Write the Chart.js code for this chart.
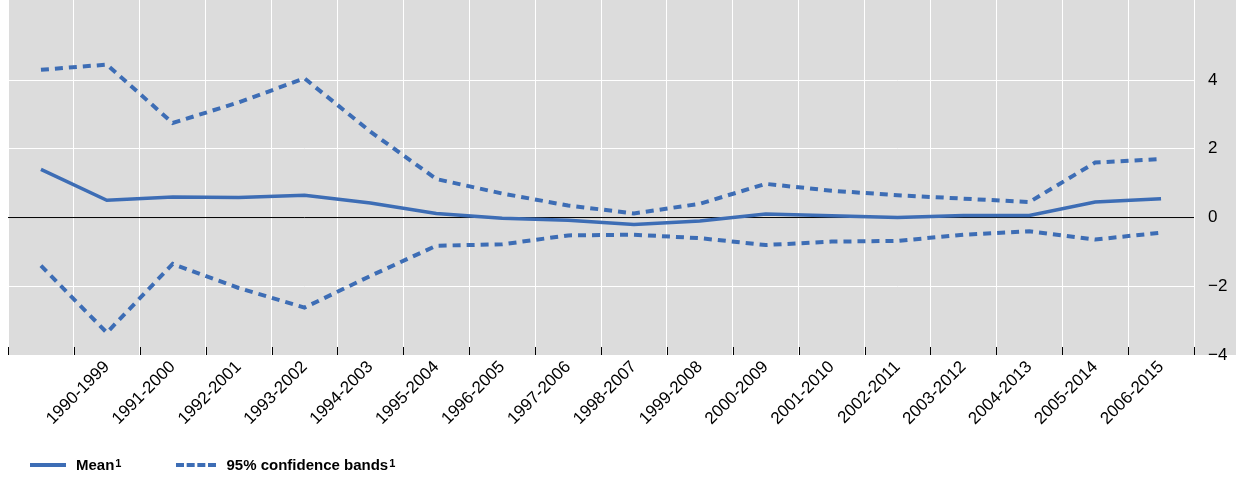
<!DOCTYPE html>
<html><head><meta charset="utf-8">
<script src="https://cdn.jsdelivr.net/npm/chart.js@4"></script>
<style>
body{margin:0;background:#fff;font-family:"Liberation Sans",Arial,sans-serif;}
#wrap{position:relative;width:1242px;height:477px;}
#legend{position:absolute;left:30px;top:456px;font-size:15px;font-weight:bold;color:#000;display:flex;align-items:center;}
.sw{display:inline-block;width:36px;height:0;border-top:4px solid #3d6db5;margin-right:10px;}
.sw.d{border-top:4px dashed #3d6db5;width:40px;}
sup{font-size:11px;position:relative;top:-2px;margin-left:1px;}
</style></head><body>
<div id="wrap"><canvas id="c" width="1242" height="477"></canvas>
<div id="legend"><span class="sw"></span>Mean<sup>1</sup><span style="width:55px;display:inline-block"></span><span class="sw d"></span>95% confidence bands<sup>1</sup></div></div>
<script>
const categories=["","1990-1999","1991-2000","1992-2001","1993-2002","1994-2003","1995-2004","1996-2005","1997-2006","1998-2007","1999-2008","2000-2009","2001-2010","2002-2011","2003-2012","2004-2013","2005-2014","2006-2015"];
const meanValues=[1.4,0.5,0.6,0.58,0.65,0.42,0.12,-0.02,-0.08,-0.2,-0.1,0.1,0.05,0.0,0.06,0.06,0.45,0.55];
const upperValues=[4.3,4.45,2.75,3.35,4.05,2.5,1.12,0.7,0.35,0.12,0.4,0.98,0.78,0.65,0.55,0.45,1.6,1.7];
const lowerValues=[-1.4,-3.35,-1.35,-2.05,-2.62,-1.7,-0.82,-0.78,-0.52,-0.5,-0.6,-0.8,-0.7,-0.68,-0.5,-0.4,-0.64,-0.44];
const yTicks=[-4,-2,0,2,4];
const blue="#3d6db5";
const bg={id:"bg",beforeDraw(ch){const{ctx,chartArea:a}=ch;ctx.save();ctx.fillStyle="#dcdcdc";ctx.fillRect(a.left,0,ch.width-a.left-6,a.bottom);ctx.restore();}};
const zero={id:"zero",beforeDatasetsDraw(ch){const{ctx,chartArea:a,scales:{y}}=ch;const p=y.getPixelForValue(0);ctx.save();ctx.strokeStyle="#000";ctx.lineWidth=1;ctx.beginPath();ctx.moveTo(a.left,p);ctx.lineTo(a.right,p);ctx.stroke();
const x=ch.scales.x;for(let i=0;i<=categories.length;i++){const px=Math.round(x.getPixelForValue(i-0.5))+0.5;ctx.beginPath();ctx.moveTo(px,a.bottom-8);ctx.lineTo(px,a.bottom);ctx.stroke();}ctx.restore();}};
new Chart(document.getElementById("c"),{type:"line",
data:{labels:categories,datasets:[
{data:meanValues,borderColor:blue,borderWidth:3.5,pointRadius:0,tension:0},
{data:upperValues,borderColor:blue,borderWidth:4,borderDash:[8,6],pointRadius:0,tension:0},
{data:lowerValues,borderColor:blue,borderWidth:4,borderDash:[8,6],pointRadius:0,tension:0}]},
options:{animation:false,responsive:false,layout:{padding:{left:8,right:6,top:0,bottom:0}},
plugins:{legend:{display:false},tooltip:{enabled:false}},
scales:{x:{offset:true,grid:{color:"#fff",lineWidth:1,offset:true,drawTicks:false},border:{display:false},
afterFit:s=>{s.height=122;},
ticks:{color:"#000",font:{size:17,family:"Liberation Sans"},maxRotation:45,minRotation:45,padding:2,autoSkip:false}},
y:{position:"right",min:-4,max:6.33,grid:{color:c=>c.tick.value===0?"rgba(0,0,0,0)":"#fff",drawTicks:false},border:{display:false},
afterBuildTicks:s=>{s.ticks=yTicks.map(v=>({value:v}));},
afterFit:s=>{s.width=42;s.paddingTop=0;s.paddingBottom=0;},
ticks:{color:"#000",font:{size:17,family:"Liberation Sans"},padding:14,callback:v=>v<0?"\u2212"+Math.abs(v):v}}}},
plugins:[bg,zero]});
</script></body></html>
